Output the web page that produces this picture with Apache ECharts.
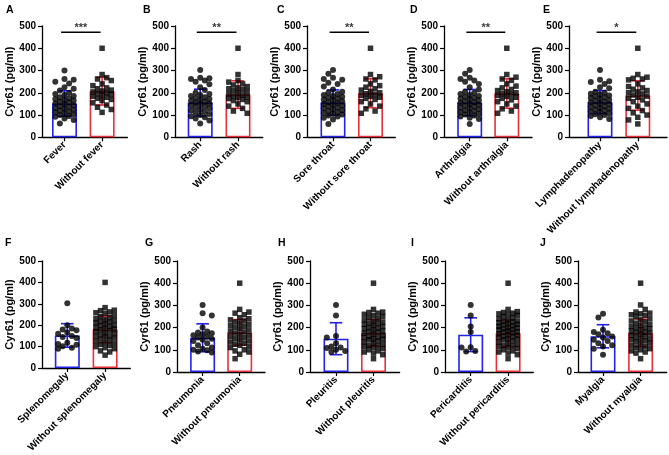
<!DOCTYPE html>
<html>
<head>
<meta charset="utf-8">
<script src="https://cdn.jsdelivr.net/npm/echarts@6/dist/echarts.min.js"></script>
<style>
html,body{margin:0;padding:0;background:#fff;}
#chart{width:669px;height:455px;}
</style>
</head>
<body>
<div id="chart"></div>
<script>
// ---------------- DATA ----------------
const panelLetters = ['A','B','C','D','E','F','G','H','I','J'];
const groupLabels = [
  ['Fever','Without fever'],
  ['Rash','Without rash'],
  ['Sore throat','Without sore throat'],
  ['Arthralgia','Without arthralgia'],
  ['Lymphadenopathy','Without lymphadenopathy'],
  ['Splenomegaly','Without splenomegaly'],
  ['Pneumonia','Without pneumonia'],
  ['Pleuritis','Without pleuritis'],
  ['Pericarditis','Without pericarditis'],
  ['Myalgia','Without myalgia']
];
const significance = ['***','**','**','**','*','','','','',''];
const sigLevel = 472;
const yTicks = [0,100,200,300,400,500];
const yTitle = 'Cyr61 (pg/ml)';

// bar heights (mean) and error bars (SD): [with, without]
const means = [[152,207],[156,192],[156,198],[156,197],[158,188],[152,180],[154,178],[150,176],[168,174],[161,176]];
const sds   = [[57,62],[60,62],[57,65],[59,66],[52,66],[55,62],[63,58],[72,60],[76,60],[52,62]];

const withA = [300,262,258,250,242,225,218,210,200,195,190,185,180,175,172,168,165,160,156,152,148,144,140,136,132,128,124,120,116,112,108,104,100,96,92,85,78,62];
const withoutA = [400,282,268,262,255,240,232,222,218,212,208,204,200,196,192,188,184,180,175,170,165,155,145,135,125,112];
const withB = [302,268,265,262,255,250,238,225,212,200,195,190,185,180,176,172,168,164,160,156,152,148,144,140,135,130,125,120,115,110,105,100,95,90,85,75,62];
const withoutB = [400,282,255,248,240,235,228,222,218,214,210,205,200,195,190,186,182,178,174,170,165,160,150,140,130,118,108];
const withC = [302,285,268,262,258,245,240,228,215,205,200,195,190,186,182,178,174,170,166,162,158,154,150,146,142,138,134,130,126,122,118,114,110,106,102,98,94,88,80,60];
const withoutC = [400,282,272,262,258,240,232,225,218,212,206,200,196,192,188,184,180,175,170,160,150,140,128,118,108];
const withD = [302,285,268,262,255,250,240,225,215,205,200,195,190,186,182,178,174,170,166,162,158,154,150,146,142,138,134,130,126,122,118,114,110,106,102,98,94,88,82,60];
const withoutD = [400,282,270,262,256,240,230,222,215,210,205,200,196,192,188,184,180,175,168,160,150,140,128,118,108];
const withE = [302,258,252,248,240,225,220,205,200,196,192,188,184,180,176,172,168,164,160,156,152,148,144,140,136,132,128,124,120,116,112,108,104,100,96,90,82];
const withoutE = [400,282,270,265,262,258,240,228,222,216,210,204,200,195,190,185,180,175,168,160,150,140,130,120,110,100,90,78,60];
const withF = [302,200,184,180,176,166,160,150,145,140,118,112,108,102,95,90];
const withoutF = [400,282,270,268,262,258,255,245,240,235,230,225,222,218,215,210,205,200,198,195,190,185,182,178,175,170,165,160,155,150,148,145,140,135,130,125,120,115,110,105,100,95,90,80,75,60];
const withG = [302,265,255,200,182,178,175,170,165,160,155,150,145,140,130,120,110,105,100,98,92,88];
const withoutG = [400,282,270,265,258,245,240,235,230,225,220,215,210,205,200,195,190,185,180,175,170,165,160,155,150,145,140,135,130,125,120,115,110,100,95,90,80,60];
const withH = [302,255,162,155,130,115,110,108,100,95,90];
const withoutH = [400,282,270,268,265,260,255,250,245,240,235,230,225,220,218,215,210,205,200,198,195,190,185,182,180,175,170,165,160,158,155,150,148,145,140,135,130,125,120,118,115,110,105,100,95,90,85,78,60];
const withI = [302,255,205,180,112,110,95,92];
const withoutI = [400,282,272,268,265,262,258,255,250,245,240,235,230,228,225,222,218,215,212,208,205,200,198,195,192,190,185,182,180,176,172,168,165,160,158,155,150,148,145,140,135,130,125,120,118,115,110,105,100,95,90,85,78,60];
const withJ = [262,245,190,180,175,170,160,155,145,140,130,120,115,105,78];
const withoutJ = [400,302,282,270,265,262,258,255,250,240,235,230,225,220,215,210,205,200,198,195,190,185,180,178,175,170,165,160,155,150,148,145,140,135,130,125,120,115,110,105,100,95,90,85,60];

const groupWith = [withA,withB,withC,withD,withE,withF,withG,withH,withI,withJ];
const groupWithout = [withoutA,withoutB,withoutC,withoutD,withoutE,withoutF,withoutG,withoutH,withoutI,withoutJ];

// ---------------- LAYOUT ----------------
const axisX = [42,175,307,444,569, 42,177,310,445,578];
const blueC = [64.5,200.2,333,469.7,600, 67.3,202.6,336,470.7,603];
const redC  = [102.1,238,370.5,506.8,637.8, 105.1,239.7,373.5,508.1,640.6];
const endX  = [127.4,262.8,395.3,532,667, 130.3,265,399.6,533.3,666.7];
const rowTop = [26, 261];
const rowH = [111.3, 111];
const nameGaps = [23,21,21,20,16.5,15,19.5,20,20,22];
const letterPos = [[6,5],[143,5],[277,5],[410,5],[543,5],[5,238],[145,238],[278,238],[411,238],[540,238]];
const BLUE = '#2222e8', RED = '#e8303a', BLACK = '#000';
const FONT = 'Liberation Sans, Arial, Helvetica, sans-serif';

function swarm(values, pxY, pxX) {
  const step = 4.6, minDist = 5.4, maxHalf = 13.5;
  const order = values.map((v,i)=>({v,i})).sort((a,b)=>b.v-a.v);
  const placed = [];
  const res = new Array(values.length);
  let flip = 1;
  for (const p of order) {
    const y = p.v * pxY;
    const cands = [0];
    for (let k = 1; k*step <= maxHalf; k++) { cands.push(flip*k*step, -flip*k*step); }
    let chosen = null, bestC = 0, bestScore = -1;
    for (const c of cands) {
      let md = Infinity;
      for (const q of placed) { const dd = Math.hypot(q.x - c, q.y - y); if (dd < md) md = dd; }
      if (md >= minDist) { chosen = c; break; }
      if (md > bestScore) { bestScore = md; bestC = c; }
    }
    if (chosen === null) chosen = bestC;
    flip = -flip;
    placed.push({x: chosen, y});
    res[p.i] = chosen / pxX;
  }
  return res;
}

const grids = [], xAxes = [], yAxes = [], series = [], titles = [];
for (let p = 0; p < 10; p++) {
  const row = p < 5 ? 0 : 1;
  const d = redC[p] - blueC[p];
  const labels = groupLabels[p];
  grids.push({left: axisX[p], top: rowTop[row], width: endX[p] - axisX[p], height: rowH[row], containLabel: false});
  xAxes.push({
    gridIndex: p, type: 'value',
    min: (axisX[p] - blueC[p]) / d, max: (endX[p] - blueC[p]) / d,
    axisLine: {show: true, onZero: false, lineStyle: {color: BLACK, width: 1.3}},
    axisTick: {show: true, customValues: [0,1], length: 4, lineStyle: {color: BLACK, width: 1.2}},
    axisLabel: {show: true, customValues: [0,1], rotate: 45, margin: 6, color: BLACK,
      fontFamily: FONT, fontSize: 10, fontWeight: 'bold',
      formatter: v => Math.abs(v) < 1e-6 ? labels[0] : (Math.abs(v-1) < 1e-6 ? labels[1] : '')},
    splitLine: {show: false}
  });
  yAxes.push({
    gridIndex: p, type: 'value', min: yTicks[0], max: yTicks[yTicks.length-1], interval: yTicks[1]-yTicks[0],
    name: yTitle, nameLocation: 'middle', nameGap: nameGaps[p],
    nameTextStyle: {color: BLACK, fontFamily: FONT, fontSize: 11, fontWeight: 'bold'},
    axisLine: {show: true, onZero: false, lineStyle: {color: BLACK, width: 1.3}},
    axisTick: {show: true, length: 4, lineStyle: {color: BLACK, width: 1.2}},
    axisLabel: {color: BLACK, fontFamily: FONT, fontSize: 10, fontWeight: 'bold', margin: 6},
    splitLine: {show: false}
  });
  series.push({
    type: 'bar', xAxisIndex: p, yAxisIndex: p, barWidth: 25, silent: true, z: 2,
    itemStyle: {color: 'rgba(0,0,0,0)', borderWidth: 1.6},
    data: [
      {value: [0, means[p][0]], itemStyle: {borderColor: BLUE}},
      {value: [1, means[p][1]], itemStyle: {borderColor: RED}}
    ]
  });
  series.push({
    type: 'custom', xAxisIndex: p, yAxisIndex: p, z: 3, silent: true, clip: false,
    data: [[0, means[p][0], sds[p][0], 0], [1, means[p][1], sds[p][1], 1]],
    encode: {x: 0, y: 1},
    renderItem: function (params, api) {
      const x = api.value(0), m = api.value(1), s = api.value(2);
      const col = api.value(3) === 0 ? BLUE : RED;
      const t = api.coord([x, m + s]), b = api.coord([x, m - s]);
      const h = 6.3;
      const st = {stroke: col, lineWidth: 1.6};
      return {type: 'group', children: [
        {type: 'line', shape: {x1: t[0], y1: t[1], x2: b[0], y2: b[1]}, style: st},
        {type: 'line', shape: {x1: t[0]-h, y1: t[1], x2: t[0]+h, y2: t[1]}, style: st},
        {type: 'line', shape: {x1: b[0]-h, y1: b[1], x2: b[0]+h, y2: b[1]}, style: st}
      ]};
    }
  });
  const pxY = rowH[row] / 500;
  const o1 = swarm(groupWith[p], pxY, d);
  const o2 = swarm(groupWithout[p], pxY, d);
  series.push({
    type: 'scatter', xAxisIndex: p, yAxisIndex: p, z: 4, silent: true,
    symbol: 'circle', symbolSize: 6, itemStyle: {color: BLACK},
    data: groupWith[p].map((v,i) => [o1[i], v])
  });
  series.push({
    type: 'scatter', xAxisIndex: p, yAxisIndex: p, z: 4, silent: true,
    symbol: 'rect', symbolSize: 5.5, itemStyle: {color: BLACK},
    data: groupWithout[p].map((v,i) => [1 + o2[i], v])
  });
  if (significance[p]) {
    series.push({
      type: 'line', xAxisIndex: p, yAxisIndex: p, z: 5, silent: true, clip: false,
      symbol: 'none', lineStyle: {color: BLACK, width: 1.3},
      data: [[-0.09, sigLevel], [0.96, sigLevel]]
    });
    series.push({
      type: 'scatter', xAxisIndex: p, yAxisIndex: p, z: 5, silent: true, clip: false,
      symbolSize: 0,
      label: {show: true, position: 'top', distance: -1, formatter: significance[p],
        color: BLACK, fontFamily: FONT, fontSize: 11, fontWeight: 'bold'},
      data: [[0.435, sigLevel]]
    });
  }
  titles.push({text: panelLetters[p], left: letterPos[p][0], top: letterPos[p][1], padding: 0,
    textStyle: {color: BLACK, fontFamily: FONT, fontSize: 10.5, fontWeight: 'bold'}});
}

const chart = echarts.init(document.getElementById('chart'), null, {renderer: 'canvas'});
chart.setOption({
  animation: false,
  backgroundColor: '#fff',
  title: titles,
  grid: grids,
  xAxis: xAxes,
  yAxis: yAxes,
  series: series
});
</script>
</body>
</html>
